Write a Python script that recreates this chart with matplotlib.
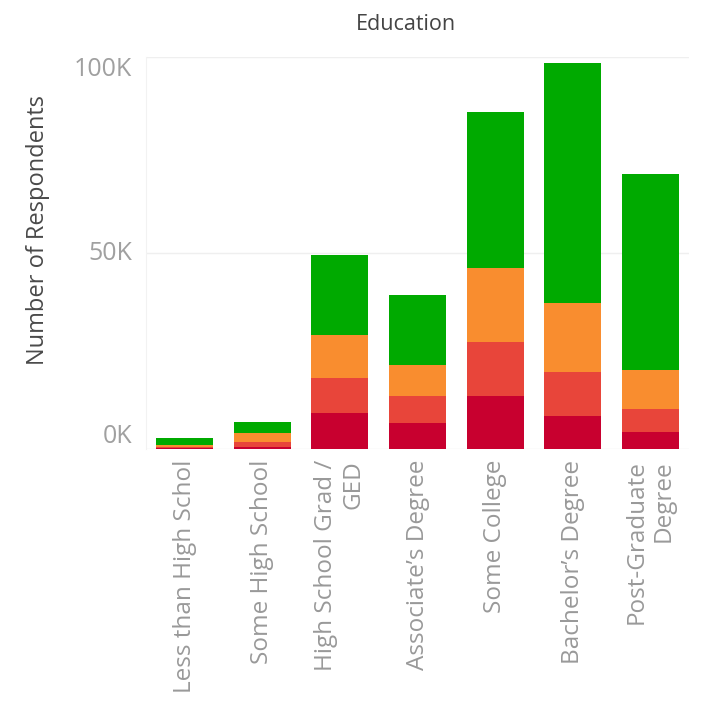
import numpy as np
import matplotlib
matplotlib.use("Agg")
import matplotlib.pyplot as plt

plt.rcParams['font.family'] = ['Open Sans', 'DejaVu Sans']

categories = [
    "Less than High Schol",
    "Some High School",
    "High School Grad /\nGED",
    "Associate\u2019s Degree",
    "Some College",
    "Bachelor\u2019s Degree",
    "Post-Graduate\nDegree",
]

# stacked segments, bottom to top (counts)
seg_crimson = [200, 600, 9100, 6700, 13500, 8400, 4400]
seg_red = [400, 1300, 8900, 6800, 13900, 11300, 5700]
seg_orange = [400, 2100, 11100, 7900, 18700, 17500, 10100]
seg_green = [1700, 2800, 20400, 17900, 39900, 61200, 50000]

y_ticks = [0, 50000, 100000]
y_tick_labels = ["0K", "50K", "100K"]

colors = ["#C8002F", "#E8453A", "#F98D2F", "#00AA00"]

fig = plt.figure(figsize=(7.02, 7.13), dpi=100)
ax = fig.add_axes([0.208, 0.3703, 0.7735, 0.5497])

x = np.arange(len(categories))
bottom = np.zeros(len(categories))
for seg, c in zip([seg_crimson, seg_red, seg_orange, seg_green], colors):
    ax.bar(x, seg, width=0.735, bottom=bottom, color=c, zorder=2)
    bottom += np.array(seg)

ax.set_xlim(-0.5, len(categories) - 0.5)
ax.set_ylim(0, 100000)
ax.set_yticks(y_ticks)
ax.set_yticklabels(y_tick_labels)
ax.grid(axis='y', color='#EFEFEF', linewidth=1, zorder=0)

for s in ['top', 'right', 'bottom']:
    ax.spines[s].set_visible(False)
ax.spines['left'].set_color('#F2F2F2')

ax.tick_params(axis='y', length=0, labelsize=18, labelcolor='#A0A0A0', pad=10)
# tableau keeps the end labels inside the axis range
ytl = ax.get_yticklabels()
ytl[0].set_verticalalignment('bottom')
ytl[1].set_verticalalignment('center')
ytl[2].set_verticalalignment('top')

ax.set_xticks(x)
ax.set_xticklabels(categories, rotation=90, ha='center', va='top',
                   multialignment='right')
ax.tick_params(axis='x', length=0, labelsize=17.5, labelcolor='#999999', pad=8)

ax.set_ylabel("Number of Respondents", fontsize=17, color='#4A4A4A')
ax.yaxis.set_label_coords(-0.176, 0.559)

fig.text(0.578, 0.965, "Education", ha='center', va='center',
         fontsize=15.5, color='#444444')

fig.savefig("out.png", dpi=100)
